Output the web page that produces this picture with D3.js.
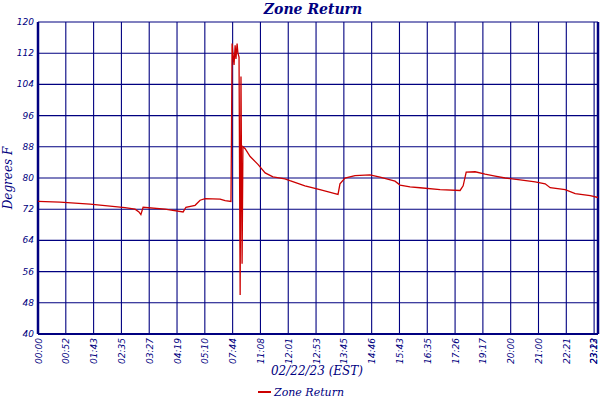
<!DOCTYPE html>
<html><head><meta charset="utf-8">
<script src="https://cdn.jsdelivr.net/npm/d3@7"></script>
<style>body{margin:0;background:#fff}</style>
</head><body>
<script>
// sample position (10 samples per time label) and temperature
const sampleIdx = [0,7.9,18.7,25.9,31.3,34.9,36.3,37,37.8,45.7,52.2,53.2,56.5,58.3,60.1,65.5,67.3,69.4,69.6,69.8,70.1,70.5,70.9,71.2,71.6,71.9,72.3,72.7,73,73.4,73.7,74.5,76.3,79.1,81.7,84.5,88.8,90.6,96,101.4,106.8,107.9,108.6,110.4,114,119.4,123,128.4,130.2,133.8,137.4,144.6,151.8,152.9,154,157.2,160.8,164.4,168,173.4,178.8,182.4,184.2,189.6,193.2,198.6,201.4];
const temps = [74,73.8,73.3,72.8,72.4,72,71.3,70.6,72.5,72,71.3,72.5,73,74.3,74.7,74.6,74.2,74,92,114.5,112,109,114,110.5,114.5,112,111,50,106,58,88,87.5,85.5,83.5,81.3,80.3,79.8,79.3,78,77,76,75.8,78.5,80,80.6,80.8,80.2,79.2,78.2,77.7,77.5,77,76.8,78,81.5,81.6,81,80.5,80,79.5,79,78.5,77.5,77,76,75.5,75];
const tickLabels = ["00:00","00:52","01:43","02:35","03:27","04:19","05:10","07:44","11:08","12:01","12:53","13:45","14:46","15:43","16:35","17:26","19:17","20:00","21:00","22:21","23:13","23:22"];
const tickIdx = [0,10,20,30,40,50,60,70,80,90,100,110,120,130,140,150,160,170,180,190,200,201.4];
const yTicks = [40,48,56,64,72,80,88,96,104,112,120];

const navy = "#000080", red = "#cc0000";
const W = 600, H = 400, m = {l: 38, r: 2, t: 22, b: 66};
const svg = d3.select("body").append("svg").attr("width", W).attr("height", H)
  .style("font-family", "'DejaVu Sans', sans-serif").style("font-style", "italic");

const x = d3.scaleLinear().domain([0, 201.4]).range([m.l, W - m.r]);
const y = d3.scaleLinear().domain([40, 120]).range([H - m.b, m.t]);

// grid
svg.append("g").selectAll("line").data(tickIdx).join("line")
  .attr("x1", d => x(d)).attr("x2", d => x(d)).attr("y1", y(40)).attr("y2", y(120))
  .attr("stroke", navy).attr("stroke-width", 1.1);
svg.append("g").selectAll("line").data(yTicks).join("line")
  .attr("x1", x(0)).attr("x2", x(201.4)).attr("y1", d => y(d)).attr("y2", d => y(d))
  .attr("stroke", navy).attr("stroke-width", 1.1);
svg.append("line").attr("x1", x(0)).attr("x2", x(0)).attr("y1", y(40)).attr("y2", y(120))
  .attr("stroke", navy).attr("stroke-width", 2.5);
svg.append("line").attr("x1", x(201.4)).attr("x2", x(201.4)).attr("y1", y(40)).attr("y2", y(120))
  .attr("stroke", navy).attr("stroke-width", 2.5);
svg.append("line").attr("x1", x(0)).attr("x2", x(201.4)).attr("y1", y(40)).attr("y2", y(40))
  .attr("stroke", navy).attr("stroke-width", 2);

// y labels
svg.append("g").selectAll("text").data(yTicks).join("text")
  .attr("x", x(0) - 4).attr("y", d => y(d) + 3).attr("text-anchor", "end")
  .attr("font-size", 9).attr("fill", navy).text(d => d);

// x labels
svg.append("g").selectAll("text").data(tickIdx).join("text")
  .attr("transform", d => `translate(${Math.min(x(d) + 3.5, 597)},${y(40) + 4}) rotate(-90)`)
  .attr("text-anchor", "end").attr("font-size", 9).attr("fill", navy)
  .text((d, i) => tickLabels[i]);

// series
const pts = sampleIdx.map((s, i) => [s, temps[i]]);
svg.append("path").datum(pts)
  .attr("d", d3.line().x(d => x(d[0])).y(d => y(d[1])))
  .attr("fill", "none").attr("stroke", red).attr("stroke-width", 1.3);

// titles
svg.append("text").attr("x", 313).attr("y", 14).attr("text-anchor", "middle")
  .attr("font-family", "'DejaVu Serif', serif").attr("font-weight", "bold")
  .attr("font-size", 14).attr("fill", navy).text("Zone Return");
svg.append("text").attr("transform", `translate(12,${(y(40) + y(120)) / 2}) rotate(-90)`)
  .attr("text-anchor", "middle").attr("font-family", "'DejaVu Serif', serif")
  .attr("font-size", 12).attr("fill", navy).text("Degrees F");
svg.append("text").attr("x", 317).attr("y", 375).attr("text-anchor", "middle")
  .attr("font-family", "'DejaVu Serif', serif")
  .attr("font-size", 12).attr("fill", navy).text("02/22/23 (EST)");
svg.append("line").attr("x1", 258).attr("x2", 271).attr("y1", 392).attr("y2", 392)
  .attr("stroke", red).attr("stroke-width", 2);
svg.append("text").attr("x", 274).attr("y", 396).attr("font-family", "'DejaVu Serif', serif")
  .attr("font-size", 11).attr("fill", navy).text("Zone Return");
</script>
</body></html>
